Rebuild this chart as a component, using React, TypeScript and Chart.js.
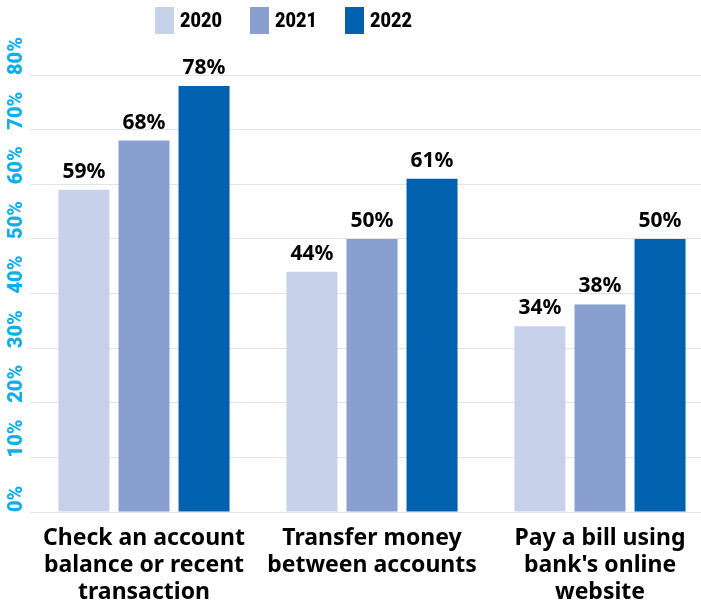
import React, { useEffect, useRef } from "react";
import { Chart, registerables } from "chart.js";

Chart.register(...registerables);

// Category labels (multi-line) and series values, in percent
const categories: string[][] = [
  ["Check an account", "balance or recent", "transaction"],
  ["Transfer money", "between accounts"],
  ["Pay a bill using", "bank's online", "website"],
];
const seriesNames = ["2020", "2021", "2022"];
const values2020 = [59, 44, 34];
const values2021 = [68, 50, 38];
const values2022 = [78, 61, 50];
const seriesColors = ["#C8D1EA", "#889FD0", "#0061AE"];
const yTickValues = [0, 10, 20, 30, 40, 50, 60, 70, 80];

const SANS = "Roboto, 'Liberation Sans', Arial, sans-serif";
const LABEL_FONT = "'Noto Sans', Lato, sans-serif";

// Draws the percentage above every bar
const valueLabels = {
  id: "valueLabels",
  afterDatasetsDraw(chart: any) {
    const ctx = chart.ctx;
    ctx.save();
    ctx.font = `bold 21px ${LABEL_FONT}`;
    ctx.fillStyle = "#000000";
    ctx.textAlign = "center";
    ctx.textBaseline = "alphabetic";
    chart.data.datasets.forEach((ds: any, i: number) => {
      const meta = chart.getDatasetMeta(i);
      meta.data.forEach((bar: any, j: number) => {
        ctx.fillText(`${ds.data[j]}%`, bar.x, bar.y - 12);
      });
    });
    ctx.restore();
  },
};

function BankingChart() {
  const canvasRef = useRef<HTMLCanvasElement | null>(null);

  useEffect(() => {
    if (!canvasRef.current) return;
    const seriesValues = [values2020, values2021, values2022];
    const chart = new Chart(canvasRef.current, {
      type: "bar",
      data: {
        labels: categories,
        datasets: seriesNames.map((name, i) => ({
          label: name,
          data: seriesValues[i],
          backgroundColor: seriesColors[i],
          borderWidth: 0,
          categoryPercentage: 0.79,
          barPercentage: 0.85,
        })),
      },
      options: {
        animation: false,
        responsive: true,
        maintainAspectRatio: false,
        layout: { padding: { top: 75, left: 7, right: 2, bottom: 0 } },
        plugins: {
          legend: { display: false },
          tooltip: { enabled: false },
        },
        scales: {
          x: {
            grid: { display: false },
            border: { display: false },
            afterFit: (scale: any) => {
              scale.height = 91;
            },
            ticks: {
              color: "#000000",
              padding: 5,
              maxRotation: 0,
              autoSkip: false,
              font: { family: LABEL_FONT, weight: "bold", size: 23, lineHeight: 1.17 },
            },
          },
          y: {
            min: 0,
            max: 80,
            afterBuildTicks: (scale: any) => {
              scale.ticks = yTickValues.map((v) => ({ value: v }));
            },
            afterFit: (scale: any) => {
              scale.width = 23;
            },
            border: { display: false },
            grid: { color: "#E3E3E3", lineWidth: 1, drawTicks: false },
            ticks: {
              minRotation: 90,
              maxRotation: 90,
              crossAlign: "far",
              align: "start",
              padding: 0,
              autoSkip: false,
              color: "#12AEEA",
              font: { family: SANS, weight: "900", size: 20 },
              callback: (v: any) => `${v}%`,
            },
          },
        },
      },
      plugins: [valueLabels],
    });
    return () => chart.destroy();
  }, []);

  return (
    <div
      style={{
        position: "fixed",
        left: 0,
        top: 0,
        width: 701,
        height: 603,
        overflow: "hidden",
        background: "#ffffff",
      }}
    >
      <div style={{ position: "absolute", left: 0, top: 0, width: 716, height: 603 }}>
        <canvas ref={canvasRef} />
      </div>
      <div
        style={{
          position: "absolute",
          left: 155,
          top: 7,
          display: "flex",
          alignItems: "center",
          gap: 30,
        }}
      >
        {seriesNames.map((name, i) => (
          <div key={name} style={{ display: "flex", alignItems: "center" }}>
            <span
              style={{
                display: "inline-block",
                width: 19,
                height: 27,
                background: seriesColors[i],
              }}
            />
            <span
              style={{
                display: "inline-block",
                width: 40,
                marginLeft: 6,
                font: `900 21px ${SANS}`,
                color: "#000000",
                lineHeight: "27px",
                transform: "scaleX(0.86)",
                transformOrigin: "left center",
                whiteSpace: "nowrap",
              }}
            >
              {name}
            </span>
          </div>
        ))}
      </div>
    </div>
  );
}

export default function App() {
  return <BankingChart />;
}
